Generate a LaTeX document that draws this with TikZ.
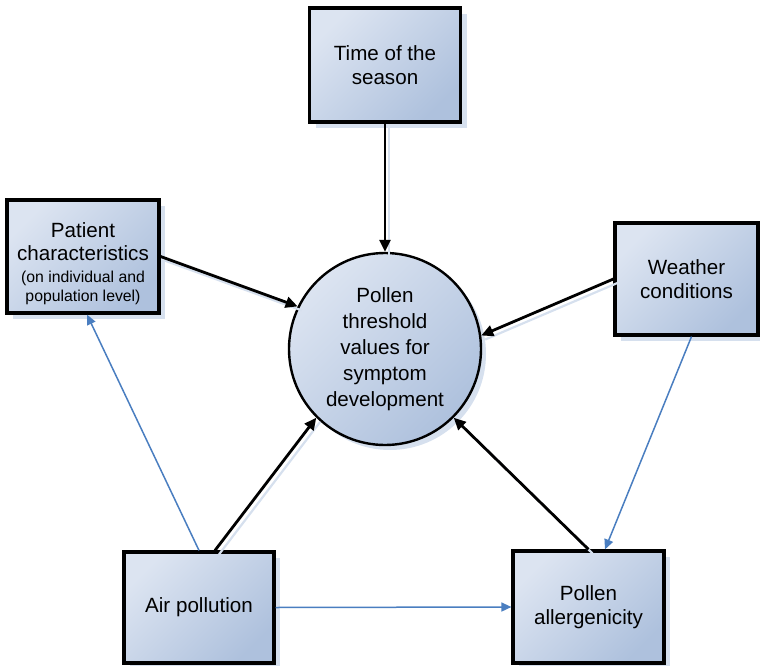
\documentclass[tikz,border=0pt]{standalone}
\usepackage{fontspec}
\setmainfont{Liberation Sans}
\usetikzlibrary{arrows.meta,shadows,calc}
\definecolor{boxlight}{HTML}{DCE4F1}
\definecolor{boxdark}{HTML}{AEC1DD}
\definecolor{shadowc}{HTML}{D6E0EE}
\definecolor{linkblue}{HTML}{4A7EC0}
\newcommand{\mysmallfont}{\fontsize{15.8}{19}\selectfont}
\begin{document}
\begin{tikzpicture}[x=1pt,y=-1pt,
  bigtext/.style={font=\fontsize{20.6}{24.5}\selectfont},
  boxnode/.style={rectangle, draw=black, line width=3.2pt, bigtext, align=center,
    inner sep=0pt, top color=boxlight, bottom color=boxdark, shading angle=45,
    drop shadow={shadow xshift=6pt, shadow yshift=-6pt, fill=shadowc, opacity=1}},
  circnode/.style={circle, draw=black, line width=2.4pt, bigtext, align=center,
    inner sep=0pt, minimum size=192pt, top color=boxlight, bottom color=boxdark, shading angle=45,
    drop shadow={shadow xshift=5pt, shadow yshift=-5pt, fill=shadowc, opacity=1}},
  mainarrow/.style={draw=black, line width=2.8pt, -{Triangle[length=12pt,width=11pt]},
    preaction={draw=shadowc, line width=2.2pt, -, transform canvas={xshift=4pt,yshift=-4pt}}},
  bluearrow/.style={draw=linkblue, line width=1.5pt, -{Triangle[length=10pt,width=9pt]}}
]
\useasboundingbox (0,0) rectangle (760,666);

\node[boxnode, minimum width=151pt, minimum height=114pt] (time) at (385,65) {Time of the\\season};
\node[boxnode, minimum width=152pt, minimum height=113pt] (patient) at (83,256.5)
  {\rule{0pt}{29pt}Patient\\[-1pt]characteristics\\[-3pt]{\mysmallfont (on individual and}\\[-5pt]{\mysmallfont population level)}};
\node[boxnode, minimum width=143pt, minimum height=112pt] (weather) at (686.5,279) {Weather\\conditions};
\node[boxnode, minimum width=150pt, minimum height=111pt] (air) at (199,607.5) {Air pollution};
\node[boxnode, minimum width=151pt, minimum height=112pt] (allerg) at (588.5,607) {Pollen\\allergenicity};
\node[circnode] (circ) at (385,349) {Pollen\\[1.5pt]threshold\\[1.5pt]values for\\[1.5pt]symptom\\[1.5pt]development};

\coordinate (airblack) at ($(air.north)+(16,0)$);
\coordinate (weatherblue) at ($(weather.south)+(5,0)$);
\coordinate (allergblue) at ($(allerg.north)+(16.5,0)$);
\coordinate (patientblue) at ($(patient.south)+(4,0)$);

\draw[mainarrow] (time.south) -- (circ.north);
\draw[mainarrow] (patient.east) -- (circ.154);
\draw[mainarrow] (weather.west) -- (circ.8);
\draw[mainarrow] (airblack) -- (circ.225);
\draw[mainarrow] (allerg.north) -- (circ.315);

\draw[bluearrow] (air.north) -- (patientblue);
\draw[bluearrow] (weatherblue) -- (allergblue);
\draw[bluearrow] (air.east) -- (allerg.west);
\end{tikzpicture}
\end{document}
